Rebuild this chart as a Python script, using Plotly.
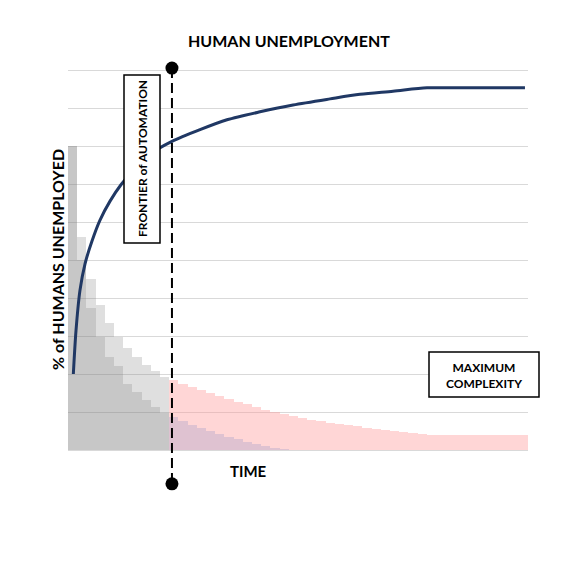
import plotly.graph_objects as go

# time steps (one bar per step)
time_steps = list(range(50))
frontier_step = 11          # first step past the frontier of automation
frontier_time = 10.8        # where the dashed frontier line stands
frontier_span = [10.05, -0.89]

# upper stepped series (light grey before frontier, pink after)
upper_values = [8.0, 5.61, 4.51, 3.82, 3.34, 2.97, 2.68, 2.44, 2.24, 2.09, 1.92,
                1.83, 1.74, 1.65, 1.57, 1.49, 1.41, 1.34, 1.27, 1.20, 1.13,
                1.06, 1.00, 0.94, 0.89, 0.84, 0.80, 0.76, 0.72, 0.68, 0.65,
                0.62, 0.59, 0.56, 0.53, 0.50, 0.48, 0.46, 0.43, 0.39, 0.39,
                0.39, 0.39, 0.39, 0.39, 0.39, 0.39, 0.39, 0.39, 0.39]

# lower stepped series (darker grey before frontier, lavender after)
lower_values = [8.0, 5.0, 3.75, 2.97, 2.46, 2.2, 1.75, 1.53, 1.31, 1.13, 0.98,
                0.87, 0.77, 0.67, 0.58, 0.50, 0.42, 0.35, 0.28, 0.22, 0.16,
                0.11, 0.06, 0.02, 0, 0, 0, 0, 0, 0, 0,
                0, 0, 0, 0, 0, 0, 0, 0, 0, 0,
                0, 0, 0, 0, 0, 0, 0, 0, 0]

# unemployment curve
curve_time = [0.08, 0.37, 0.80, 1.35, 2.11, 2.98, 4.07, 5.26, 6.78, 8.41, 10.80,
              13.85, 16.78, 20.37, 23.96, 27.98, 31.24, 34.83, 38.52, 42.11, 49.17]
curve_values = [2.0, 3.14, 4.2, 4.9, 5.5, 6.05, 6.55, 6.98, 7.4, 7.78, 8.12,
                8.43, 8.69, 8.9, 9.08, 9.24, 9.36, 9.44, 9.53, 9.53, 9.53]

GREY = "rgba(128,128,128,0.25)"
PINK = "rgba(255,150,150,0.39)"
LAV = "rgba(150,150,200,0.30)"

upper_colors = [GREY if t < frontier_step else PINK for t in time_steps]
lower_colors = [GREY if t < frontier_step else LAV for t in time_steps]

# plot area in pixels: x 68..528, y 58..488
L, R, T, B = 68, 528, 58, 488


def px(x, y):
    return (x - L) / (R - L), (B - y) / (B - T)


fig = go.Figure()
fig.add_trace(go.Bar(x=time_steps, y=upper_values, marker=dict(color=upper_colors, line_width=0),
                     width=1.0))
fig.add_trace(go.Bar(x=time_steps, y=lower_values, marker=dict(color=lower_colors, line_width=0),
                     width=1.0))
fig.add_trace(go.Scatter(x=curve_time, y=curve_values, mode="lines",
                         line=dict(color="#203864", width=3, shape="spline", smoothing=0.8)))
fig.add_trace(go.Scatter(x=[frontier_time, frontier_time], y=frontier_span, mode="lines+markers",
                         line=dict(color="black", width=2, dash="10px,5px"),
                         marker=dict(color="black", size=13), cliponaxis=False))

# boxes
fx0, fy0 = px(124, 243)
fx1, fy1 = px(160, 75)
mx0, my0 = px(429, 397)
mx1, my1 = px(539, 352)
box = dict(type="rect", xref="paper", yref="paper", layer="above",
           line=dict(color="black", width=1.5), fillcolor="white")
fig.add_shape(x0=fx0, y0=fy0, x1=fx1, y1=fy1, **box)
fig.add_shape(x0=mx0, y0=my0, x1=mx1, y1=my1, **box)

font = "Lato, 'Open Sans', sans-serif"


def label(text, x, y, size, angle=0):
    ax, ay = px(x, y)
    fig.add_annotation(text=text, x=ax, y=ay, xref="paper", yref="paper", showarrow=False,
                       textangle=angle, xanchor="center", yanchor="middle",
                       font=dict(family=font, size=size, color="black"))


label("<b>HUMAN UNEMPLOYMENT</b>", 289, 40, 16)
label("<b>% of HUMANS UNEMPLOYED</b>", 57, 260, 16, -90)
label("<b>TIME</b>", 248, 471, 15)
label("<b>FRONTIER of AUTOMATION</b>", 142, 159, 12, -90)
label("<b>MAXIMUM<br>COMPLEXITY</b>", 484, 375, 12)

fig.update_layout(
    width=576, height=576,
    margin=dict(l=L, r=576 - R, t=T, b=576 - B),
    paper_bgcolor="white", plot_bgcolor="white",
    barmode="overlay", bargap=0, showlegend=False,
    xaxis=dict(range=[-0.5, 49.5], showgrid=False, zeroline=False, showticklabels=False,
               showline=False, ticks=""),
    yaxis=dict(range=[-1.0, 10.316], tickvals=list(range(11)), showgrid=True,
               gridcolor="#D9D9D9", gridwidth=1, zeroline=False, showticklabels=False,
               showline=False, ticks=""),
)

# drop the default page margin so the figure sits at the window's corner
fig.write_html("out.html", config={"displayModeBar": False},
               post_script="document.body.style.margin='0';")
